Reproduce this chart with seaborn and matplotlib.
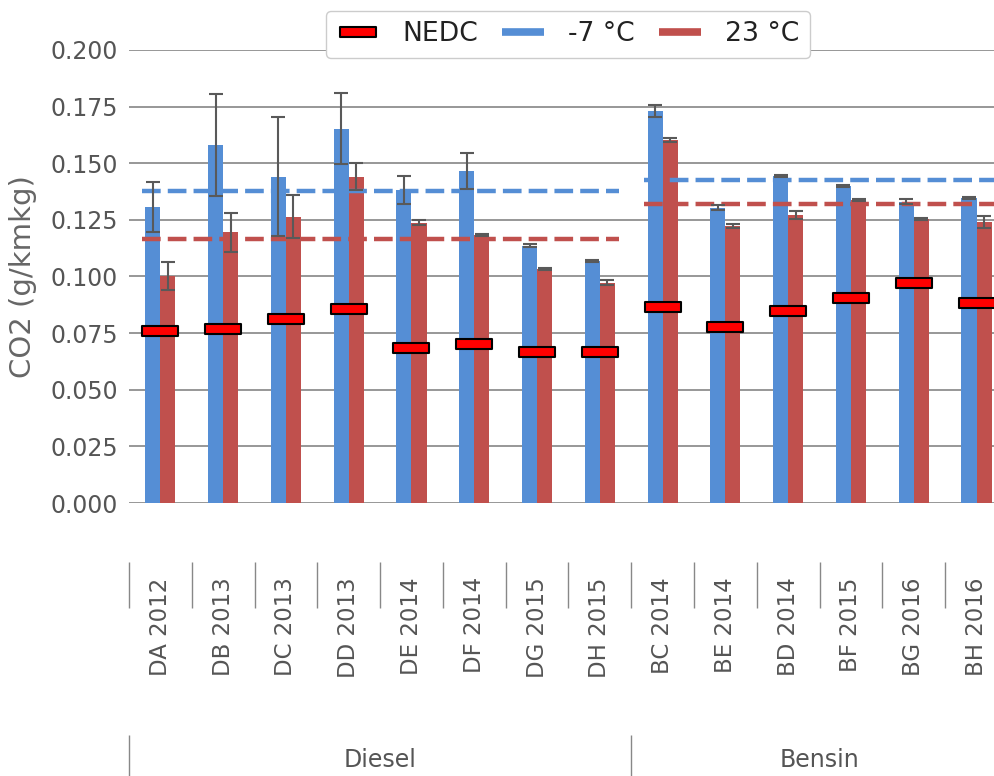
import numpy as np
import pandas as pd
import seaborn as sns
import matplotlib.pyplot as plt
from matplotlib.lines import Line2D
from matplotlib.path import Path

# values
cars = ["DA 2012", "DB 2013", "DC 2013", "DD 2013", "DE 2014", "DF 2014", "DG 2015",
        "DH 2015", "BC 2014", "BE 2014", "BD 2014", "BF 2015", "BG 2016", "BH 2016"]
fuel = ["Diesel", "Diesel", "Diesel", "Diesel", "Diesel", "Diesel", "Diesel", "Diesel",
        "Bensin", "Bensin", "Bensin", "Bensin", "Bensin", "Bensin"]
cold = [0.1305, 0.1580, 0.1441, 0.1653, 0.1382, 0.1467, 0.1136, 0.1068,
        0.1731, 0.1304, 0.1444, 0.1400, 0.1330, 0.1345]
cold_err = [0.0110, 0.0225, 0.0263, 0.0156, 0.0060, 0.0080, 0.0007, 0.0003,
            0.0027, 0.0010, 0.0005, 0.0005, 0.0010, 0.0005]
warm = [0.1002, 0.1195, 0.1264, 0.1441, 0.1238, 0.1183, 0.1032, 0.0973,
        0.1603, 0.1223, 0.1272, 0.1338, 0.1254, 0.1242]
warm_err = [0.0060, 0.0087, 0.0094, 0.0060, 0.0010, 0.0005, 0.0005, 0.0010,
            0.0010, 0.0010, 0.0017, 0.0005, 0.0005, 0.0027]
nedc = [0.0761, 0.0770, 0.0811, 0.0857, 0.0684, 0.0702, 0.0667, 0.0667,
        0.0867, 0.0778, 0.0848, 0.0904, 0.0973, 0.0884]
temps = ["-7 °C", "23 °C"]
groups = ["Diesel", "Bensin"]

blue = "#558ED5"
red = "#C0504D"
grey = "#555555"

df = pd.DataFrame({
    "car": cars * 2,
    "temp": [temps[0]] * len(cars) + [temps[1]] * len(cars),
    "co2": cold + warm,
})

sns.set_theme(style="white")
plt.rcParams["font.family"] = ["DejaVu Sans"]

fig = plt.figure(figsize=(9.95, 7.76), dpi=100)
ax = fig.add_axes([0.1296, 0.3518, 0.8834, 0.5838])

sns.barplot(data=df, x="car", y="co2", hue="temp", order=cars, hue_order=temps,
            palette=[blue, red], saturation=1, width=0.48, errorbar=None,
            linewidth=0, legend=False, ax=ax, zorder=2)

# error bars at the bar centres
for cont, err in zip(ax.containers, [cold_err, warm_err]):
    xs = [p.get_x() + p.get_width() / 2 for p in cont]
    ys = [p.get_height() for p in cont]
    ax.errorbar(xs, ys, yerr=err, fmt="none", ecolor="#595959", elinewidth=1.5,
                capsize=4.7, capthick=1.5, zorder=4)

# group means as dashed lines
fuel_arr = np.array(fuel)
for g in groups:
    idx = np.where(fuel_arr == g)[0]
    x0, x1 = idx[0] - 0.3, idx[-1] + 0.3
    for vals, c in [(cold, blue), (warm, red)]:
        ax.hlines(np.mean(np.array(vals)[idx]), x0, x1, colors=c, lw=3.2,
                  linestyles=(0, (4.2, 1.6)), zorder=3)

# NEDC markers
rect = Path([(-0.5, -0.125), (0.5, -0.125), (0.5, 0.125), (-0.5, 0.125), (-0.5, -0.125)],
            closed=True)
ax.plot(np.arange(len(cars)), nedc, ls="none", marker=rect, ms=26, mfc="red",
        mec="black", mew=1.5, zorder=5)

ax.set_xlim(-0.5, len(cars) - 0.5)
ax.set_ylim(0, 0.2)
ax.set_yticks(np.arange(0, 0.2001, 0.025))
ax.set_yticklabels([f"{v:.3f}" for v in np.arange(0, 0.2001, 0.025)])
ax.tick_params(axis="y", length=0, pad=8, labelsize=17, labelcolor=grey)
ax.tick_params(axis="x", bottom=False, labelbottom=False)
ax.set_xlabel("")
ax.set_ylabel("CO2 (g/kmkg)", fontsize=21, color="#666666")
ax.yaxis.set_label_coords(-0.105, 0.5)
ax.grid(axis="y", color="#7a7a7a", lw=1.1)
ax.set_axisbelow(True)
for s in ax.spines.values():
    s.set_visible(False)

# two-level category axis
bounds = np.arange(len(cars) + 1) - 0.5
sec1 = ax.secondary_xaxis(-0.1302)
sec1.set_xticks(np.arange(len(cars)), labels=cars, rotation=90)
sec1.set_xticks(bounds, minor=True)
sec1.tick_params(which="major", length=0, pad=11, labelsize=16.5, labelcolor=grey)
sec1.tick_params(which="minor", length=33, width=1, color="#888888")
sec1.spines["bottom"].set_visible(False)

first = [fuel.index(g) for g in groups]
last = [len(fuel) - 1 - fuel[::-1].index(g) for g in groups]
sec2 = ax.secondary_xaxis(-0.5121)
sec2.set_xticks([(a + b) / 2 for a, b in zip(first, last)], labels=groups)
sec2.set_xticks([first[0] - 0.5] + [b + 0.5 for b in last], minor=True)
sec2.tick_params(which="major", length=0, pad=9.5, labelsize=17, labelcolor=grey)
sec2.tick_params(which="minor", length=35, width=1, color="#888888")
sec2.spines["bottom"].set_visible(False)

handles = [
    Line2D([], [], ls="none", marker=rect, ms=26, mfc="red", mec="black", mew=1.5),
    Line2D([], [], color=blue, lw=5.5, solid_capstyle="butt"),
    Line2D([], [], color=red, lw=5.5, solid_capstyle="butt"),
]
leg = fig.legend(handles, ["NEDC"] + temps, loc="center", bbox_to_anchor=(0.5709, 0.9558),
                 ncol=3, fontsize=19.2, handlelength=1.57, handletextpad=0.9,
                 columnspacing=0.9, frameon=True, fancybox=True, framealpha=1,
                 edgecolor="#cccccc", labelcolor="#222222")

fig.savefig("out.png", dpi=100)
